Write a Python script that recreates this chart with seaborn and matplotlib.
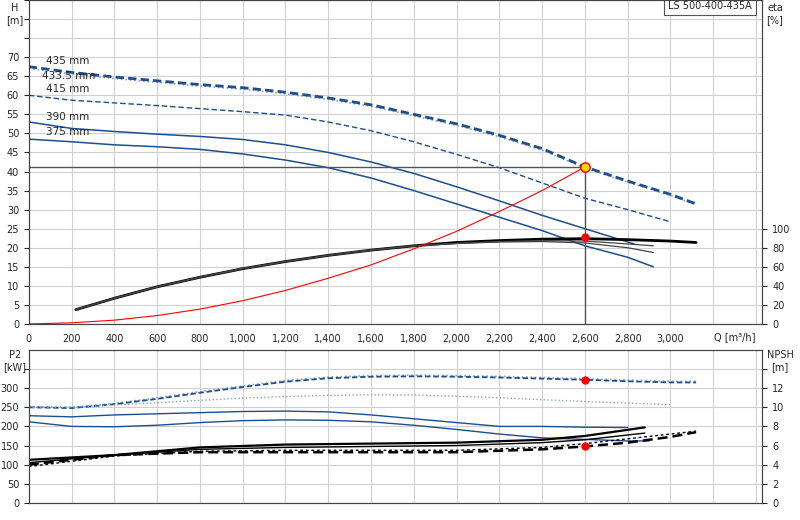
import matplotlib
matplotlib.use("Agg")
import numpy as np
import pandas as pd
import matplotlib.pyplot as plt
import seaborn as sns

sns.set_style("white")
plt.rcParams['font.family'] = ['DejaVu Sans']

BLUE = '#1f4e8c'

# Q-H curves per impeller diameter
q_435 = [0, 200, 400, 600, 800, 1000, 1200, 1400, 1600, 1800, 2000, 2200, 2400, 2600, 2800, 3000, 3120]
h_435 = [67.5, 66.0, 64.8, 63.8, 62.8, 62.0, 60.8, 59.3, 57.5, 55.0, 52.5, 49.5, 46.0, 41.2, 37.5, 34.0, 31.5]
h_4335 = [67.0, 65.6, 64.4, 63.4, 62.4, 61.6, 60.4, 58.9, 57.1, 54.6, 52.1, 49.1, 45.6, 40.9, 37.2, 33.7, 31.3]
q_415 = [0, 200, 400, 600, 800, 1000, 1200, 1400, 1600, 1800, 2000, 2200, 2400, 2600, 2800, 3000]
h_415 = [60.0, 58.7, 58.0, 57.3, 56.5, 55.7, 54.8, 53.0, 50.7, 47.8, 44.5, 41.0, 37.0, 33.0, 30.0, 26.8]
q_390 = [0, 200, 400, 600, 800, 1000, 1200, 1400, 1600, 1800, 2000, 2200, 2400, 2600, 2830]
h_390 = [53.0, 51.3, 50.5, 49.8, 49.2, 48.4, 47.0, 45.0, 42.5, 39.5, 36.0, 32.3, 28.5, 25.0, 21.0]
q_375 = [0, 200, 400, 600, 800, 1000, 1200, 1400, 1600, 1800, 2000, 2200, 2400, 2600, 2800, 2920]
h_375 = [48.5, 47.8, 47.0, 46.5, 45.8, 44.6, 43.0, 41.0, 38.3, 35.0, 31.5, 28.0, 24.5, 20.5, 17.5, 15.0]

# efficiency [%]
q_eta = [220, 400, 600, 800, 1000, 1200, 1400, 1600, 1800, 2000, 2200, 2400, 2600, 2800, 3000, 3120]
eta_435 = [15, 27, 39, 49, 58, 65.5, 72, 77.5, 82, 85.5, 87.5, 89, 89.5, 88.5, 87, 85.5]
q_eta_s = [220, 400, 600, 800, 1000, 1200, 1400, 1600, 1800, 2000, 2200, 2400, 2600, 2800, 2920]
eta_375 = [15, 27, 39, 49, 58, 65.5, 72, 77.5, 82, 84.5, 86, 86.5, 85, 80, 75]
eta_390 = [15, 27, 39, 49, 58, 65.5, 72, 77.5, 82, 84.5, 86.5, 87.5, 87, 84, 82]

# system curve
q_sys = [0, 200, 400, 600, 800, 1000, 1200, 1400, 1600, 1800, 2000, 2200, 2400, 2600]
h_sys = [0, 0.3, 1.0, 2.2, 3.9, 6.1, 8.8, 12.0, 15.5, 19.7, 24.3, 29.5, 35.0, 41.2]

# P2 [kW]
q_p = [0, 200, 400, 600, 800, 1000, 1200, 1400, 1600, 1800, 2000, 2200, 2400, 2600, 2800, 3000, 3120]
p_435 = [250, 248, 258, 272, 288, 303, 317, 326, 330, 331, 330, 328, 325, 322, 318, 315, 315]
p_4335 = [252, 250, 260, 275, 291, 306, 320, 329, 333, 334, 333, 331, 328, 325, 321, 318, 318]
q_p415 = [0, 200, 400, 600, 800, 1000, 1200, 1400, 1600, 1800, 2000, 2200, 2400, 2600, 2800, 3000]
p_415 = [250, 250, 256, 262, 268, 274, 278, 281, 283, 282, 279, 275, 270, 265, 261, 257]
q_p390 = [0, 200, 400, 600, 800, 1000, 1200, 1400, 1600, 1800, 2000, 2200, 2400, 2600, 2800]
p_390 = [228, 225, 230, 233, 236, 239, 240, 238, 230, 220, 210, 200, 200, 198, 197]
q_p375 = [0, 200, 400, 600, 800, 1000, 1200, 1400, 1600, 1800, 2000, 2200, 2400, 2600, 2800, 2900]
p_375 = [212, 200, 199, 203, 210, 215, 217, 216, 212, 203, 192, 180, 170, 166, 162, 162]

# NPSH [m]
q_n = [0, 400, 800, 1200, 1600, 2000, 2400, 2600, 2880]
npsh_a = [4.5, 5.0, 5.8, 6.1, 6.2, 6.3, 6.6, 7.0, 7.9]
npsh_b = [4.2, 5.0, 5.6, 5.8, 5.9, 6.0, 6.3, 6.6, 7.3]
q_n2 = [0, 400, 800, 1200, 1600, 2000, 2400, 2600, 2800, 3000, 3120]
npsh_c = [4.0, 5.0, 5.3, 5.3, 5.3, 5.3, 5.6, 5.9, 6.3, 6.9, 7.4]
npsh_d = [3.8, 4.9, 5.4, 5.5, 5.5, 5.5, 5.8, 6.2, 6.7, 7.2, 7.5]

duty_q, duty_h, duty_eta = 2600, 41.2, 91
duty_p2, duty_npsh = 322, 5.9

fig = plt.figure(figsize=(8, 5.2), dpi=100)
ax = fig.add_axes([0.036, 0.377, 0.917, 0.623])
axb = fig.add_axes([0.036, 0.033, 0.917, 0.294])


def line(a, x, y, **kw):
    sns.lineplot(x=x, y=y, ax=a, sort=False, estimator=None, **kw)


# top chart (eta drawn on H scale, eta 100 % = 25 m)
line(ax, q_435, h_4335, color='#8fa3bf', lw=1.2, linestyle=':')
line(ax, q_435, h_435, color=BLUE, lw=2.0, linestyle=(0, (3, 1.5)))
line(ax, q_415, h_415, color=BLUE, lw=1.0, linestyle=(0, (4, 2)))
line(ax, q_390, h_390, color=BLUE, lw=1.1)
line(ax, q_375, h_375, color=BLUE, lw=1.1)
line(ax, q_eta, np.array(eta_435) / 4, color='black', lw=2.0)
line(ax, q_eta_s, np.array(eta_375) / 4, color='#444444', lw=0.9)
line(ax, q_eta_s, np.array(eta_390) / 4, color='#444444', lw=0.9)
line(ax, q_sys, h_sys, color='red', lw=0.8)
ax.plot([0, duty_q], [duty_h, duty_h], color='#555555', lw=1)
ax.plot([duty_q, duty_q], [0, duty_h], color='#555555', lw=1)
ax.scatter([duty_q], [duty_eta / 4], color='red', s=25, zorder=5)
ax.scatter([duty_q], [duty_h], color='#ffd700', edgecolor='red', s=45, zorder=6)

for txt, y in [('435 mm', 68.2), ('433.5 mm', 64.2), ('415 mm', 60.8), ('390 mm', 53.6), ('375 mm', 49.6)]:
    ax.text(80 if txt != '433.5 mm' else 60, y, txt, fontsize=7.5)

ax.set_xlim(0, 3430)
ax.set_ylim(0, 85)
ax.set_xticks(range(0, 3401, 200))
ax.set_xticklabels([f'{v:,}' if v <= 3000 else '' for v in range(0, 3401, 200)], fontsize=7)
ax.set_yticks(range(0, 86, 5))
ax.set_yticklabels([str(v) if v <= 70 else '' for v in range(0, 86, 5)], fontsize=7)
ax.grid(True, color='#d0d0d0', lw=0.8)
ax.text(3300, -3.5, 'Q [m³/h]', fontsize=7, ha='center', va='center')
fig.text(15 / 800, 1 - 3 / 520, 'H\n[m]', fontsize=7, ha='center', va='top')
ax.text(3380, 83.4, 'LS 500-400-435A', fontsize=7, ha='right', va='center',
        bbox=dict(facecolor='white', edgecolor='#555555', lw=0.8, pad=3))
ax2 = ax.twinx()
ax2.set_ylim(0, 85 * 4)
ax2.set_yticks(range(0, 101, 20))
ax2.tick_params(labelsize=7)
fig.text(775 / 800, 1 - 3 / 520, 'eta\n[%]', fontsize=7, ha='center', va='top')

# bottom chart (NPSH on P2 scale, 1 m = 25 kW)
line(axb, q_p, p_4335, color='#8fa3bf', lw=1.2, linestyle=':')
line(axb, q_p, p_435, color=BLUE, lw=1.3, linestyle=(0, (3, 1.5)))
line(axb, q_p415, p_415, color='#8fa3bf', lw=1.0, linestyle=':')
line(axb, q_p390, p_390, color=BLUE, lw=1.0)
line(axb, q_p375, p_375, color=BLUE, lw=1.0)
line(axb, q_n, np.array(npsh_a) * 25, color='black', lw=1.6)
line(axb, q_n, np.array(npsh_b) * 25, color='black', lw=1.0)
line(axb, q_n2, np.array(npsh_c) * 25, color='black', lw=1.8, linestyle=(0, (4, 2)))
line(axb, q_n2, np.array(npsh_d) * 25, color='black', lw=1.0, linestyle=(0, (2, 2)))
axb.scatter([duty_q, duty_q], [duty_p2, duty_npsh * 25], color='red', s=25, zorder=5)
axb.set_xlim(0, 3430)
axb.set_ylim(0, 400)
axb.set_xticks(range(0, 3401, 200))
axb.set_xticklabels([])
axb.set_yticks(range(0, 351, 50))
axb.set_yticklabels([str(v) if v <= 300 else '' for v in range(0, 351, 50)], fontsize=7)
axb.grid(True, color='#d0d0d0', lw=0.8)
fig.text(15 / 800, 1 - 350 / 520, 'P2\n[kW]', fontsize=7, ha='center', va='top')
axb2 = axb.twinx()
axb2.set_ylim(0, 16)
axb2.set_yticks(range(0, 15, 2))
axb2.set_yticklabels([str(v) if v <= 12 else '' for v in range(0, 15, 2)], fontsize=7)
fig.text(780 / 800, 1 - 350 / 520, 'NPSH\n[m]', fontsize=7, ha='center', va='top')

for a in (ax, ax2, axb, axb2):
    for s in a.spines.values():
        s.set_color('#444444')

fig.savefig('out.png', dpi=100)
